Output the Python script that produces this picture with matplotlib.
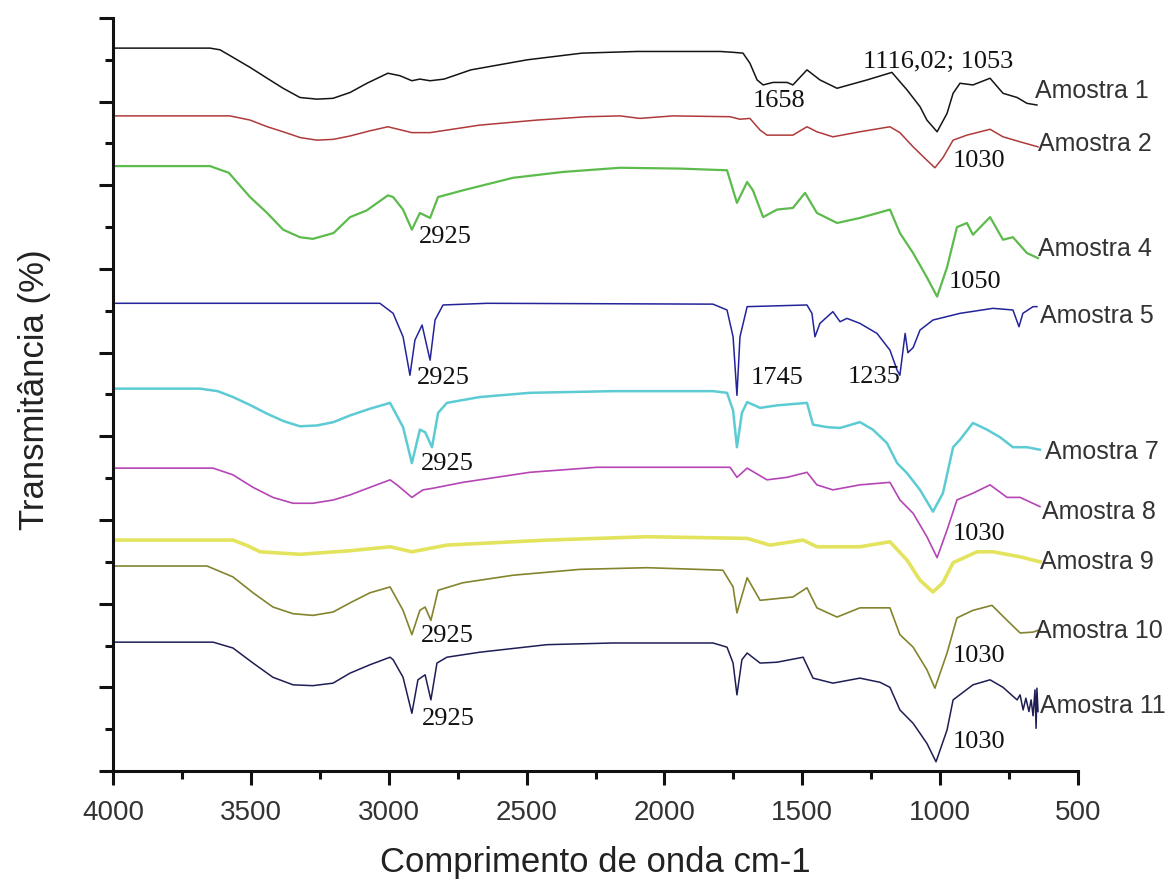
import matplotlib
matplotlib.use('Agg')
import matplotlib.pyplot as plt
from matplotlib.ticker import MultipleLocator

# ---- spectra (wavenumber cm-1, transmittance a.u. with vertical offsets) ----
wn1 = [4000, 3648, 3612, 3565, 3503, 3441, 3383, 3322, 3260, 3202, 3140, 3079, 3003, 2959, 2916, 2887,
       2850, 2799, 2702, 2498, 2299, 2100, 1798, 1751, 1715, 1690, 1664, 1642, 1606, 1555, 1534, 1483,
       1436, 1374, 1265, 1175, 1120, 1073, 1048, 1011, 975, 953, 928, 881, 819, 772, 721, 685, 649]
t1 = [86.4, 86.4, 86.2, 85.3, 84.1, 82.8, 81.6, 80.5, 80.3, 80.4, 81.1, 82.2, 83.4, 83.1, 82.5, 82.7,
      82.5, 82.7, 83.8, 85.0, 85.8, 86.0, 86.0, 85.9, 85.8, 84.6, 82.6, 82.0, 82.3, 82.3, 82.0, 83.8,
      82.6, 81.6, 82.6, 83.5, 81.4, 79.4, 77.8, 76.4, 78.6, 81.0, 82.2, 82.0, 82.8, 81.0, 80.5, 79.8, 79.6]

wn2 = [4000, 3576, 3503, 3440, 3383, 3320, 3260, 3200, 3140, 3070, 3003, 2916, 2850, 2669, 2462, 2281,
       2161, 2089, 1969, 1762, 1726, 1690, 1653, 1628, 1534, 1483, 1447, 1389, 1291, 1182, 1146, 1098,
       1048, 1019, 990, 953, 903, 819, 772, 710, 645]
t2 = [78.3, 78.3, 77.8, 77.0, 76.4, 75.7, 75.4, 75.5, 75.9, 76.5, 77.0, 76.3, 76.3, 77.2, 77.8, 78.2,
      78.3, 78.0, 78.3, 78.2, 77.9, 78.0, 76.6, 76.0, 76.0, 77.0, 76.4, 75.8, 76.4, 77.0, 76.3, 74.6,
      73.0, 72.1, 73.3, 75.4, 76.0, 76.7, 75.8, 75.2, 74.6]

wn4 = [4000, 3648, 3580, 3503, 3441, 3383, 3322, 3275, 3200, 3140, 3080, 3003, 2984, 2948, 2916, 2887,
       2850, 2821, 2731, 2549, 2368, 2161, 1943, 1773, 1737, 1700, 1679, 1642, 1592, 1534, 1490, 1447,
       1374, 1291, 1182, 1146, 1098, 1048, 1011, 975, 939, 903, 881, 819, 772, 736, 685, 645]
t4 = [72.3, 72.3, 71.5, 68.6, 66.7, 64.7, 63.8, 63.6, 64.3, 66.2, 67.0, 68.8, 68.6, 67.1, 64.7, 66.7,
      66.1, 68.6, 69.4, 70.9, 71.6, 72.1, 72.0, 71.8, 67.9, 70.4, 69.4, 66.2, 67.1, 67.3, 69.1, 66.7,
      65.5, 66.1, 67.1, 64.3, 61.9, 59.0, 56.7, 60.2, 65.0, 65.5, 64.1, 66.2, 63.5, 63.8, 61.9, 61.3]

wn5 = [4000, 3032, 2984, 2948, 2923, 2905, 2879, 2850, 2832, 2803, 2643, 1824, 1773, 1751, 1737, 1726,
       1700, 1483, 1465, 1454, 1436, 1389, 1363, 1338, 1291, 1229, 1182, 1156, 1146, 1127, 1117, 1098,
       1073, 1026, 928, 808, 736, 714, 700, 663, 649]
t5 = [55.9, 55.9, 54.7, 51.9, 47.3, 51.5, 53.3, 49.1, 53.9, 55.7, 55.9, 55.8, 55.1, 51.9, 44.9, 51.9,
      55.5, 55.7, 54.7, 51.9, 53.5, 54.9, 53.7, 54.1, 53.5, 52.3, 50.3, 47.9, 47.3, 52.3, 50.0, 50.6,
      52.7, 53.9, 54.7, 55.3, 55.1, 53.1, 54.7, 55.5, 55.5]

wn7 = [4000, 3684, 3620, 3565, 3500, 3441, 3380, 3322, 3260, 3200, 3140, 3068, 2995, 2948, 2916, 2887,
       2868, 2843, 2821, 2789, 2669, 2488, 2187, 1824, 1773, 1751, 1737, 1719, 1700, 1653, 1592, 1483,
       1461, 1410, 1363, 1291, 1244, 1193, 1156, 1120, 1073, 1026, 990, 953, 928, 881, 830, 783, 736,
       685, 638]
t7 = [45.7, 45.7, 45.4, 44.7, 43.7, 42.7, 41.8, 41.2, 41.3, 41.7, 42.5, 43.3, 44.0, 41.1, 36.8, 40.8,
      40.5, 38.7, 42.8, 44.0, 44.7, 45.2, 45.4, 45.4, 45.2, 43.1, 38.7, 42.8, 44.1, 43.4, 43.7, 44.0,
      41.4, 41.1, 41.0, 41.7, 40.8, 39.2, 36.8, 35.6, 33.6, 31.0, 33.2, 38.7, 39.6, 41.6, 40.8, 39.9,
      38.7, 38.7, 38.4]

wn8 = [4000, 3637, 3565, 3492, 3420, 3347, 3275, 3200, 3140, 3068, 2995, 2970, 2916, 2876, 2839, 2731,
       2488, 2245, 1762, 1737, 1700, 1628, 1555, 1483, 1447, 1389, 1291, 1182, 1146, 1098, 1048, 1011,
       975, 939, 881, 819, 757, 710, 638]
t8 = [36.2, 36.2, 35.4, 33.9, 32.7, 32.0, 32.0, 32.4, 33.0, 33.9, 34.8, 34.2, 32.7, 33.6, 33.8, 34.5,
      35.7, 36.3, 36.3, 35.1, 36.2, 34.8, 35.1, 35.7, 34.2, 33.6, 34.2, 34.5, 32.4, 30.8, 28.0, 25.5,
      28.8, 32.4, 33.2, 34.2, 32.7, 32.7, 31.6]

wn9 = [4000, 3565, 3510, 3467, 3322, 3150, 2995, 2916, 2789, 2426, 2063, 1700, 1617, 1497, 1447, 1291,
       1182, 1120, 1073, 1026, 990, 953, 866, 808, 710, 638]
t9 = [27.6, 27.6, 26.9, 26.2, 25.9, 26.3, 26.8, 26.2, 27.0, 27.6, 28.0, 27.8, 27.0, 27.6, 26.8, 26.8,
      27.4, 25.2, 22.8, 21.4, 22.5, 24.9, 26.2, 26.2, 25.6, 25.0]

wn10 = [4000, 3659, 3565, 3492, 3420, 3347, 3275, 3202, 3140, 3068, 2995, 2948, 2916, 2887, 2868, 2847,
        2821, 2731, 2549, 2306, 2063, 1788, 1751, 1737, 1700, 1653, 1534, 1483, 1447, 1374, 1291, 1182,
        1146, 1098, 1048, 1019, 975, 939, 881, 812, 757, 710, 663, 638]
t10 = [24.5, 24.5, 23.2, 21.3, 19.6, 18.8, 18.6, 19.0, 20.1, 21.3, 22.0, 19.2, 16.3, 19.2, 19.6, 18.0,
       21.6, 22.5, 23.4, 24.1, 24.3, 24.0, 22.0, 18.9, 23.1, 20.4, 20.8, 21.9, 19.5, 18.4, 19.5, 19.5,
       16.3, 14.8, 12.1, 9.9, 14.1, 18.3, 19.2, 19.8, 18.0, 16.5, 16.6, 16.9]

wn11 = [4000, 3637, 3565, 3492, 3420, 3347, 3275, 3202, 3140, 3068, 2995, 2984, 2948, 2916, 2894, 2868,
        2847, 2825, 2789, 2669, 2426, 2187, 1824, 1773, 1751, 1737, 1719, 1700, 1653, 1592, 1497, 1461,
        1389, 1291, 1218, 1182, 1146, 1098, 1048, 1015, 975, 953, 881, 819, 772, 721, 710, 699, 689,
        678, 670, 663, 656, 652, 649, 645]
t11 = [15.4, 15.4, 14.7, 12.9, 11.2, 10.3, 10.2, 10.5, 11.7, 12.7, 13.6, 13.3, 11.2, 6.9, 10.9, 11.5,
       8.5, 12.9, 13.6, 14.2, 15.1, 15.3, 15.3, 14.8, 12.9, 9.1, 13.3, 14.1, 12.9, 13.0, 13.6, 11.1,
       10.5, 11.1, 10.6, 10.0, 7.3, 5.7, 3.3, 1.1, 4.9, 8.5, 10.3, 10.9, 10.0, 8.5, 9.1, 7.3, 8.7,
       7.1, 8.5, 6.6, 9.7, 5.1, 9.9, 7.1]

names = ['Amostra 1', 'Amostra 2', 'Amostra 4', 'Amostra 5', 'Amostra 7',
         'Amostra 8', 'Amostra 9', 'Amostra 10', 'Amostra 11']

# peak annotations: text, wavenumber, level
peak_txt = ['1658', '1116,02; 1053', '1030', '2925', '1050', '2925', '1745', '1235',
            '2925', '1030', '2925', '1030', '2925', '1030']
peak_wn = [1584, 1008, 859, 2796, 874, 2803, 1592, 1240, 2789, 859, 2789, 859, 2785, 859]
peak_t = [80.1, 84.7, 72.9, 63.8, 58.4, 47.0, 47.0, 47.1, 36.7, 28.3, 16.1, 13.7, 6.2, 3.5]

# styles / layout
spectra = [(wn1, t1), (wn2, t2), (wn4, t4), (wn5, t5), (wn7, t7),
           (wn8, t8), (wn9, t9), (wn10, t10), (wn11, t11)]
colors = ['#141414', '#b03a3a', '#5cbb4c', '#24249a', '#5ccbd3',
          '#b545b5', '#e3e35e', '#84842e', '#1e1e55']
widths = [1.1, 1.1, 1.6, 1.1, 1.8, 1.2, 2.6, 1.2, 1.1]
name_x = [656, 645, 645, 638, 620, 630, 638, 656, 638]
name_y = [81.3, 74.9, 62.4, 54.4, 38.1, 31.0, 25.0, 16.7, 7.8]

fig = plt.figure(figsize=(11.73, 8.83), dpi=100)
ax = fig.add_axes([113 / 1173, 1 - 771 / 883, 965 / 1173, 753 / 883])

for (wn, t), c, lw in zip(spectra, colors, widths):
    ax.plot(wn, t, color=c, lw=lw, solid_joinstyle='round')

for nm, x, y in zip(names, name_x, name_y):
    ax.text(x, y, nm, fontsize=18, family='Liberation Sans', color='#333333',
            ha='left', va='center', clip_on=False)

for s, x, y in zip(peak_txt, peak_wn, peak_t):
    ax.text(x, y, s, fontsize=19, family='Liberation Serif', color='#111111',
            ha='center', va='center')

ax.set_xlim(4000, 500)
ax.set_ylim(0, 90)
ax.xaxis.set_major_locator(MultipleLocator(500))
ax.xaxis.set_minor_locator(MultipleLocator(250))
ax.yaxis.set_major_locator(MultipleLocator(10))
ax.yaxis.set_minor_locator(MultipleLocator(5))
ax.tick_params(which='major', length=10, width=2.2, direction='out', color='#111111')
ax.tick_params(which='minor', length=5.5, width=2.2, direction='out', color='#111111')
ax.tick_params(axis='x', labelsize=20, labelcolor='#333333', pad=11)
ax.tick_params(axis='y', labelleft=False)
for lab in ax.get_xticklabels():
    lab.set_family('Liberation Sans')

for side in ['top', 'right']:
    ax.spines[side].set_visible(False)
for side in ['left', 'bottom']:
    ax.spines[side].set_linewidth(2.2)
    ax.spines[side].set_color('#111111')

ax.set_xlabel('Comprimento de onda cm-1', fontsize=25, family='Liberation Sans', color='#222222')
ax.xaxis.set_label_coords(0.5, -0.1)
ax.set_ylabel('Transmitância (%)', fontsize=25, family='Liberation Sans', color='#222222')
ax.yaxis.set_label_coords(-0.064, 0.506)

fig.savefig('out.png', dpi=100)
